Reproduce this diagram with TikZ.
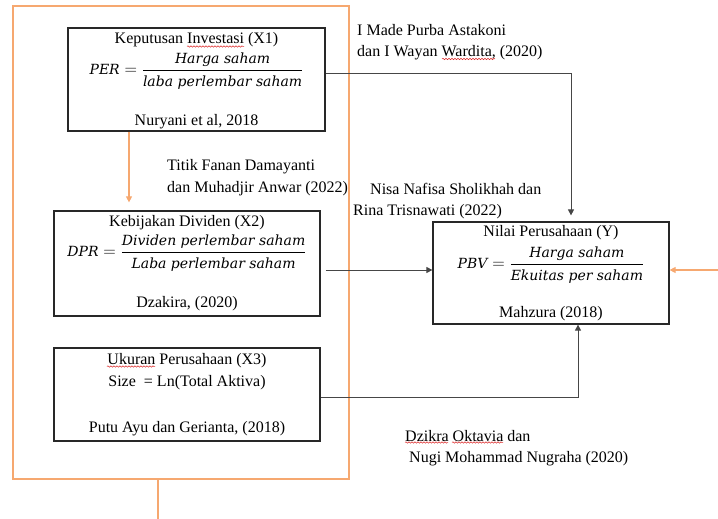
\documentclass[tikz,border=0pt]{standalone}
\usepackage{xcolor}
\usepackage{amsmath}
\usepackage{fontspec}
\setmainfont{Liberation Serif}
\newfontfamily\eqfont{DejaVu Serif}
\usepackage{tikz}
\usetikzlibrary{arrows.meta,decorations.pathmorphing}

\definecolor{orangeline}{RGB}{246,168,112}
\definecolor{boxgray}{RGB}{40,40,40}
\definecolor{conngray}{RGB}{70,70,70}
\definecolor{spellred}{RGB}{220,40,40}
\newcommand{\eqtxt}[1]{\hbox{\fontsize{14}{16}\selectfont\eqfont\itshape #1}}

\tikzset{
  box/.style={draw=boxgray, line width=1.2pt, inner sep=0pt},
  txt/.style={inner sep=0pt, font=\fontsize{16}{19}\selectfont},
  conn/.style={draw=conngray, line width=0.8pt},
  arr/.style={conn, -{Triangle[length=6pt,width=6pt]}},
  orline/.style={draw=orangeline, line width=1.1pt},
  orarr/.style={orline, -{Triangle[length=6pt,width=6pt]}},
  squiggle/.style={draw=spellred, line width=0.5pt, decorate,
    decoration={snake, segment length=3pt, amplitude=0.7pt}}
}

\begin{document}
\begin{tikzpicture}[x=1pt,y=-1pt]
\useasboundingbox (0,0) rectangle (718,519);
% frame
\draw[orline] (13,6) rectangle (349,479);
\draw[orline] (158,479) -- (158,519);

% X1
\node[box, minimum width=257pt, minimum height=103pt] (x1) at (196.5,79.5) {};
\node[txt] (x1t) at (196.5,40) {Keputusan Investasi (X1)};
\node[txt] (x1e) at (196.5,71) {$\eqtxt{PER} = \dfrac{\eqtxt{Harga saham}}{\eqtxt{laba perlembar saham}}$};
\node[txt] (x1s) at (196.5,122) {Nuryani et al, 2018};

% X2
\node[box, minimum width=266pt, minimum height=105pt] (x2) at (187,263.5) {};
\node[txt] (x2t) at (187,223) {Kebijakan Dividen (X2)};
\node[txt] (x2e) at (187,253) {$\eqtxt{DPR} = \dfrac{\eqtxt{Dividen perlembar saham}}{\eqtxt{Laba perlembar saham}}$};
\node[txt] (x2s) at (187,304) {Dzakira, (2020)};

% X3
\node[box, minimum width=266pt, minimum height=93pt] (x3) at (187,394.5) {};
\node[txt] (x3t) at (187,361) {Ukuran Perusahaan (X3)};
\node[txt] (x3e) at (187,383) {Size\ \ = Ln(Total Aktiva)};
\node[txt] (x3s) at (187,429) {Putu Ayu dan Gerianta, (2018)};

% Y
\node[box, minimum width=236pt, minimum height=102pt] (y) at (551,273) {};
\node[txt] (yt) at (551,233) {Nilai Perusahaan (Y)};
\node[txt] (ye) at (551,265) {$\eqtxt{PBV} = \dfrac{\eqtxt{Harga saham}}{\eqtxt{Ekuitas per saham}}$};
\node[txt] (ys) at (551,314) {Mahzura (2018)};

% sources
\node[txt, anchor=west] (srca) at (357,30) {I Made Purba Astakoni};
\node[txt, anchor=west] (srcb) at (357,53) {dan I Wayan Wardita, (2020)};
\node[txt, anchor=west] (srcc) at (167,167) {Titik Fanan Damayanti};
\node[txt, anchor=west] (srcd) at (167,189) {dan Muhadjir Anwar (2022)};
\node[txt, anchor=west] (srce) at (370,189) {Nisa Nafisa Sholikhah dan};
\node[txt, anchor=west] (srcf) at (353,212) {Rina Trisnawati (2022)};
\node[txt, anchor=west] (srcg) at (405,436) {Dzikra Oktavia dan};
\node[txt, anchor=west] (srch) at (409,459) {Nugi Mohammad Nugraha (2020)};

% spelling marks
\draw[squiggle] (187,46.5) -- (244,46.5);
\draw[squiggle] (442,59) -- (495,59);
\draw[squiggle] (107,366.5) -- (155,366.5);
\draw[squiggle] (405,442.5) -- (448,442.5);
\draw[squiggle] (452,442.5) -- (503,442.5);

% links
\draw[arr, shorten >=6pt] ([yshift=6.5pt]x1.east) -| ([xshift=20pt]y.north);
\draw[arr, shorten <=5pt] ([yshift=-6.5pt]x2.east) -- ([yshift=3pt]y.west);
\draw[arr] ([yshift=-2.5pt]x3.east) -| ([xshift=27pt]y.south);
\draw[orarr, shorten >=8pt] ([xshift=-67.5pt]x1.south) -- ([xshift=-58pt]x2.north);
\coordinate (rin) at (718,270);
\draw[orarr] (rin) -- ([yshift=3pt]y.east);
\end{tikzpicture}
\end{document}
